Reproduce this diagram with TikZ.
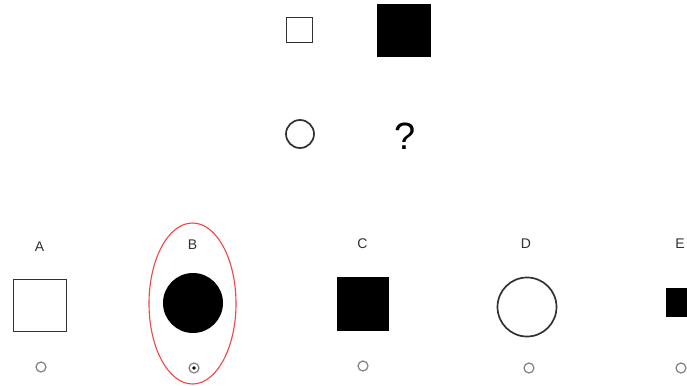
\documentclass[tikz,border=0pt]{standalone}
\usepackage{fontspec}
\setmainfont{Liberation Sans}
\usepackage{tikz}
\definecolor{edgegray}{RGB}{50, 50, 50}
\definecolor{radiogray}{RGB}{130, 130, 130}
\definecolor{markred}{RGB}{240, 70, 70}

\begin{document}
\begin{tikzpicture}[x=1pt, y=-1pt]
        \useasboundingbox[fill=white] (0,0) rectangle (687,385);
        % question grid
        \draw[edgegray, line width=1.7pt] (286.5,17.5) rectangle (312.5,42.5);
        \fill[black] (377,4) rectangle (431,57);
        \draw[edgegray, line width=1.7pt] (300,134) circle (14);
        \node[font=\fontsize{38}{40}\selectfont] (qmark) at (405,136) {?};
        % answer labels
        \node[edgegray, font=\fontsize{14}{16}\selectfont] (labA) at (39.5,247) {A};
        \node[edgegray, font=\fontsize{14}{16}\selectfont] (labB) at (192.5,245) {B};
        \node[edgegray, font=\fontsize{14}{16}\selectfont] (labC) at (362.5,244) {C};
        \node[edgegray, font=\fontsize{14}{16}\selectfont] (labD) at (526,244) {D};
        \node[edgegray, font=\fontsize{14}{16}\selectfont] (labE) at (680,244) {E};
        % answer figures
        \draw[edgegray, line width=1.7pt] (13.5,279.5) rectangle (66.5,331.5);
        \fill[black] (193,303) circle (30);
        \fill[black] (337,277) rectangle (389,331);
        \draw[edgegray, line width=1.7pt] (527,307) circle (29.5);
        \fill[black] (666,288) rectangle (695,317);
        % radio buttons
        \draw[radiogray, line width=1.2pt, fill=white] (41,367) circle (5);
        \draw[radiogray, line width=1.2pt, fill=white] (194,368) circle (5);
        \fill[black] (194,368) circle (1.8);
        \draw[radiogray, line width=1.2pt, fill=white] (363,366) circle (5);
        \draw[radiogray, line width=1.2pt, fill=white] (529,368) circle (5);
        \draw[radiogray, line width=1.2pt, fill=white] (681,368) circle (5);
        % chosen answer
        \draw[markred, line width=1.1pt] (192.5,303.5) ellipse (43.5 and 80.5);
      \end{tikzpicture}
\end{document}
